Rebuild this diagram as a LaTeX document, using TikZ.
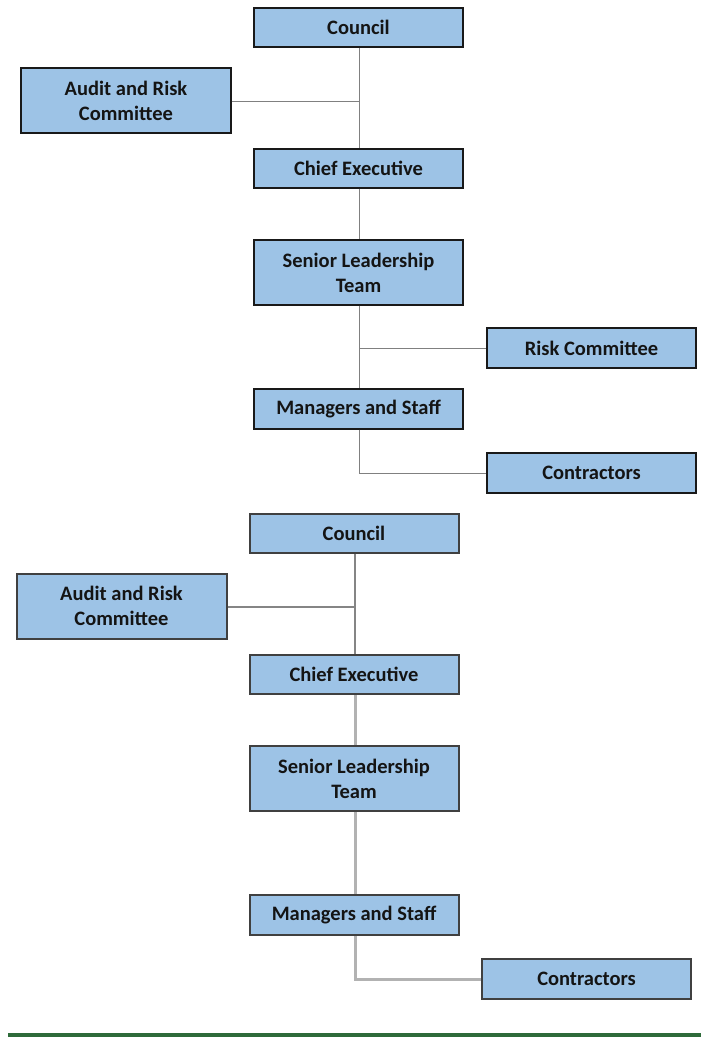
\documentclass[tikz,border=0pt]{standalone}
\usepackage{fontspec}
\setmainfont{Carlito}
\begin{document}
\begin{tikzpicture}[x=1pt,y=-1pt,
  box/.style={draw=black!90,line width=1.3pt,fill=boxblue,inner sep=0pt,
    align=center,font=\bfseries\fontsize{20.5}{25}\selectfont,text=black!92},
  boxb/.style={box,draw=black!75,line width=2pt},
  link/.style={draw=black!50,line width=1pt},
  linkb/.style={draw=black!48,line width=1.4pt},
  linkc/.style={draw=black!30,line width=3pt}]
\definecolor{boxblue}{HTML}{9DC3E6}
\definecolor{rulegreen}{HTML}{2E6B3A}
\useasboundingbox (0,0) rectangle (701,1037);

% upper chart
\coordinate (j1) at (359,101);
\coordinate (j2) at (359,348);
\coordinate (j3) at (359,473);
\node[box,minimum width=209pt,minimum height=39pt] (c1) at (358.5,27.5) {Council};
\node[box,minimum width=210pt,minimum height=65pt] (a1) at (126,100.5) {Audit and Risk\\Committee};
\node[box,minimum width=209pt,minimum height=39pt] (ce1) at (358.5,168.5) {Chief Executive};
\node[box,minimum width=209pt,minimum height=65pt] (s1) at (358.5,272.5) {Senior Leadership\\Team};
\node[box,minimum width=209pt,minimum height=40pt] (r1) at (591.5,348) {Risk Committee};
\node[box,minimum width=209pt,minimum height=40pt] (m1) at (358.5,409) {Managers and Staff};
\node[box,minimum width=209pt,minimum height=40pt] (k1) at (591.5,473) {Contractors};

\draw[link] (c1.south -| j1) -- (ce1.north -| j1);
\draw[link] (a1.east |- j1) -- (j1);
\draw[link] (ce1.south -| j1) -- (s1.north -| j1);
\draw[link] (s1.south -| j1) -- (m1.north -| j1);
\draw[link] (j2) -- (r1.west);
\draw[link] (m1.south -| j3) -- (j3) -- (k1.west);

% lower chart
\coordinate (j4) at (355,607);
\coordinate (j5) at (355,979);
\node[boxb,minimum width=209pt,minimum height=39pt] (c2) at (354,533) {Council};
\node[boxb,minimum width=210pt,minimum height=65pt] (a2) at (121.5,606) {Audit and Risk\\Committee};
\node[boxb,minimum width=209pt,minimum height=39pt] (ce2) at (354,674.5) {Chief Executive};
\node[boxb,minimum width=209pt,minimum height=65pt] (s2) at (354,778.5) {Senior Leadership\\Team};
\node[boxb,minimum width=209pt,minimum height=40pt] (m2) at (354,915) {Managers and Staff};
\node[boxb,minimum width=209pt,minimum height=40pt] (k2) at (586.5,979) {Contractors};

\draw[linkb] (c2.south -| j4) -- (ce2.north -| j4);
\draw[linkb] (a2.east |- j4) -- (j4);
\draw[linkc] (ce2.south -| j4) -- (s2.north -| j4);
\draw[linkc] (s2.south -| j4) -- (m2.north -| j4);
\draw[linkc] (m2.south -| j5) -- (j5) -- (k2.west);

% closing rule
\fill[rulegreen] (8,1032.5) rectangle (701,1037);
\end{tikzpicture}
\end{document}
